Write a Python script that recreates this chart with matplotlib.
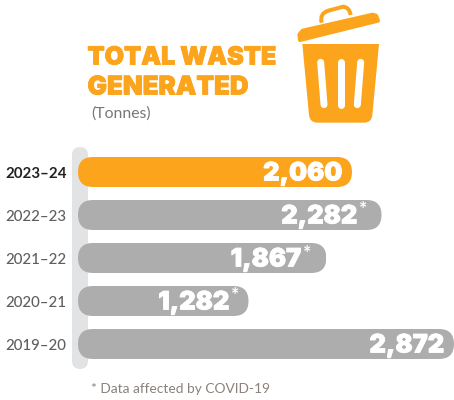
import matplotlib
matplotlib.use("Agg")
import matplotlib.pyplot as plt
import matplotlib.patheffects as pe
from matplotlib.patches import FancyBboxPatch, PathPatch, Polygon
from matplotlib.path import Path

years = ["2023–24", "2022–23", "2021–22", "2020–21", "2019–20"]
values = [2060, 2282, 1867, 1282, 2872]
labels = ["2,060", "2,282", "1,867", "1,282", "2,872"]
stars = [False, True, True, True, False]

W, H = 454, 400
ORANGE = "#FBA41C"
GREY = "#ADADAD"
fig = plt.figure(figsize=(W / 100, H / 100), dpi=100)
fig.patch.set_facecolor("white")

px = fig.add_axes([0, 0, 1, 1], zorder=0)
px.set_xlim(0, W); px.set_ylim(H, 0); px.axis("off")

px.add_patch(FancyBboxPatch((72, 147), 16, 222, boxstyle="round,pad=0,rounding_size=8",
                            fc="#E1E3E5", ec="none"))

sx, row, x0px, y0px = 0.133, 43.0, 78.0, 172.0
ax = fig.add_axes([0, 0, 1, 1], zorder=1)
ax.patch.set_alpha(0)
ax.set_xlim(-x0px / sx, (W - x0px) / sx)
ax.set_ylim((H - y0px) / row, -y0px / row)
ax.axis("off")
pos = list(range(len(years)))
bh = 30 / row
rx, ry = 15 / sx, 15 / row
xmax = ax.get_xlim()[1]
colors = [ORANGE] + [GREY] * 4
bars = ax.barh(pos, values, height=bh, color=colors, edgecolor="none")
for b, p, v in zip(bars, pos, values):
    clip = FancyBboxPatch((0, p - bh / 2), min(v, xmax), bh,
                          boxstyle=f"round,pad=0,rounding_size={rx}",
                          mutation_aspect=ry / rx, transform=ax.transData)
    b.set_clip_path(clip)

insets = [9.5, 24, 25, 19, 9.5]
for i, (p, v, lab, st, y, ins) in enumerate(zip(pos, values, labels, stars, years, insets)):
    ax.text(-73 / sx, p + 2 / row, y, ha="left", va="center", family="Lato",
            fontsize=10.8, fontweight="bold" if i == 0 else "medium",
            color="#222222" if i == 0 else "#5F5F5F")
    xr = min(v, xmax) - ins / sx
    ax.text(xr, p + 2 / row, lab, ha="right", va="center", family="Inter",
            fontsize=18.3, fontweight="black", color="white",
            path_effects=[pe.withStroke(linewidth=0.6, foreground="white")])
    if st:
        ax.text(xr + 1.5 / sx, p - 5 / row, "*", ha="left", va="center", family="Lato",
                fontsize=14, fontweight="bold", color="white")

title_fx = [pe.withStroke(linewidth=0.6, foreground=ORANGE)]
px.text(87.5, 58, "TOTAL WASTE", family="Inter", fontweight="black", fontsize=18,
        color=ORANGE, va="center", ha="left", path_effects=title_fx)
px.text(87.5, 88, "GENERATED", family="Inter", fontweight="black", fontsize=18.6,
        color=ORANGE, va="center", ha="left", path_effects=title_fx)
px.text(91, 114, "(Tonnes)", family="Lato", fontsize=11.3, color="#77777A", va="center", ha="left")
px.text(91, 389, "* Data affected by COVID-19", family="Lato", fontsize=9.9,
        color="#8A817C", va="center", ha="left")

def z(pts):
    return [(280 + a / 3, b / 3) for a, b in pts]

V, C, L = Path.MOVETO, Path.CURVE3, Path.LINETO
bc = [V, L, L, C, C, L, C, C, Path.CLOSEPOLY]
bv = z([(67, 132), (297, 132), (277, 345), (275, 368), (252, 368), (112, 368), (90, 368), (87, 345), (67, 132)])
px.add_patch(PathPatch(Path(bv, bc), fc=ORANGE, ec="none"))
for a, b in [((122, 187), (132, 314)), ((182, 187), (182, 314)), ((242, 187), (232, 314))]:
    (x1, y1), (x2, y2) = z([a, b])
    px.plot([x1, x2], [y1, y2], color="white", lw=7 * 0.72, solid_capstyle="round")
px.add_patch(Polygon(z([(60, 120), (58, 104), (68, 92), (278, 44), (288, 47), (294, 62)]),
                     closed=True, fc=ORANGE, ec=ORANGE, lw=4 * 0.72, joinstyle="round"))
hv = z([(125, 68), (118, 40), (145, 32), (190, 20), (208, 22), (212, 45)])
px.add_patch(PathPatch(Path(hv, [V, C, C, L, C, C]), fc="none", ec=ORANGE, lw=4 * 0.72,
                       capstyle="butt"))

fig.savefig("out.png", dpi=100)
